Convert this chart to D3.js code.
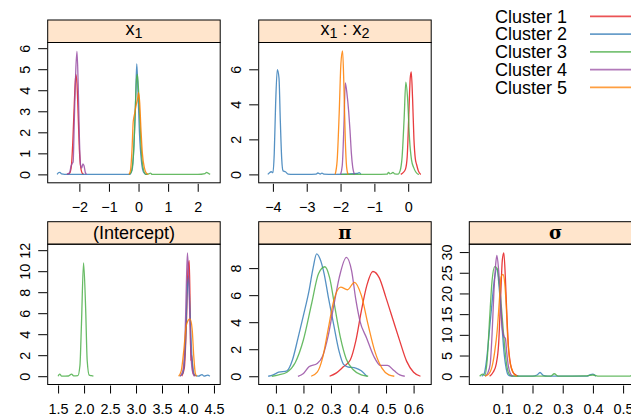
<!DOCTYPE html>
<html>
<head>
<meta charset="utf-8">
<script src="https://cdn.jsdelivr.net/npm/d3@7"></script>
<style>
  body { margin: 0; background: #fff; }
  svg { display: block; font-family: "Liberation Sans", Arial, sans-serif; }
</style>
</head>
<body>
<div id="chart"></div>
<script>
// Posterior densities per cluster, one array of [value, density] per cluster (1..5)
const clusterNames = ['Cluster 1', 'Cluster 2', 'Cluster 3', 'Cluster 4', 'Cluster 5'];
const clusterColors = ['#E41A1C', '#377EB8', '#4DAF4A', '#984EA3', '#FF7F00'];

const densX1 = [
    [[-2.42,0],[-2.33,0.05],[-2.27,0.4],[-2.22,1.6],[-2.17,3.4],[-2.12,4.75],[-2.08,4.3],[-2.04,2.8],[-2.0,1.2],[-1.96,0.4],[-1.9,0.05],[-1.85,0]],
    [[-2.75,0],[-2.71,0.08],[-2.66,0.1],[-2.6,0.02],[-2.5,0],[-1.5,0],[-0.5,0],[-0.3,0],[-0.22,0.2],[-0.16,1.2],[-0.1,3.5],[-0.06,5.25],[-0.02,4.0],[0.03,2.0],[0.1,0.6],[0.17,0.1],[0.25,0],[0.3,0]],
    [[-0.32,0],[-0.25,0.1],[-0.18,0.8],[-0.12,2.6],[-0.07,4.5],[-0.04,4.75],[0.0,4.0],[0.05,2.4],[0.1,1.0],[0.17,0.2],[0.25,0],[0.35,0.02],[0.4,0.06],[0.46,0],[1.0,0],[2.0,0],[2.25,0.04],[2.3,0.1],[2.36,0.05],[2.42,0]],
    [[-2.42,0],[-2.33,0.08],[-2.28,0.4],[-2.25,0.5],[-2.21,0.6],[-2.17,2.6],[-2.12,5.0],[-2.08,5.85],[-2.04,4.3],[-2.0,1.8],[-1.96,0.45],[-1.92,0.3],[-1.88,0.5],[-1.84,0.4],[-1.8,0.1],[-1.76,0]],
    [[-0.32,0],[-0.27,0.2],[-0.22,1.2],[-0.18,2.5],[-0.13,2.9],[-0.08,3.3],[-0.03,3.6],[0.0,3.88],[0.04,3.4],[0.08,2.2],[0.13,1.0],[0.2,0.3],[0.27,0.05],[0.33,0]]
];

const densX1X2 = [
    [[-0.22,0],[-0.15,0.1],[-0.08,0.3],[-0.03,1.0],[0.02,3.5],[0.06,5.5],[0.09,5.85],[0.13,4.3],[0.17,2.0],[0.21,0.9],[0.25,0.55],[0.3,0.2],[0.37,0]],
    [[-4.15,0],[-4.1,0.1],[-4.05,0.15],[-4.0,0.1],[-3.96,1.2],[-3.92,4.0],[-3.87,5.98],[-3.82,5.5],[-3.78,3.0],[-3.74,0.9],[-3.7,0.2],[-3.63,0.15],[-3.55,0.02],[-3.4,0],[-3.0,0],[-2.72,0.02],[-2.67,0.08],[-2.6,0.02],[-2.55,0.07],[-2.5,0.02],[-2.2,0],[-1.5,0.05],[-1.45,0.1],[-1.4,0]],
    [[-1.99,0],[-1.5,0],[-1.0,0],[-0.62,0.02],[-0.58,0.12],[-0.54,0.03],[-0.5,0.05],[-0.45,0.12],[-0.4,0.03],[-0.3,0.02],[-0.24,0.2],[-0.18,1.0],[-0.12,3.2],[-0.07,5.26],[-0.02,4.4],[0.04,2.0],[0.1,0.8],[0.16,0.4],[0.22,0.15],[0.28,0.02],[0.32,0]],
    [[-2.0,0],[-1.95,0.5],[-1.9,2.8],[-1.86,5.22],[-1.81,4.6],[-1.76,3.6],[-1.72,2.5],[-1.68,1.2],[-1.64,0.4],[-1.59,0]],
    [[-2.16,0],[-2.1,0.8],[-2.04,3.5],[-1.99,6.3],[-1.94,7.05],[-1.9,5.0],[-1.86,2.0],[-1.82,0.4],[-1.78,0]]
];

const densIntercept = [
    [[3.88,0],[3.93,0.8],[3.97,5.0],[4.0,10.2],[4.025,11.0],[4.045,5.0],[4.055,1.5],[4.07,2.0],[4.1,0.3],[4.14,0]],
    [[3.84,0],[3.9,0.3],[3.95,3.0],[3.985,8.0],[4.01,9.55],[4.04,6.0],[4.08,1.5],[4.13,0.1],[4.2,0],[4.27,0.15],[4.31,0],[4.38,0.1],[4.42,0]],
    [[1.5,0],[1.53,0.2],[1.57,0],[1.7,0.02],[1.76,0.2],[1.8,0.03],[1.88,0.05],[1.92,1.0],[1.95,5.0],[1.99,10.8],[2.03,6.5],[2.06,1.5],[2.1,0.1],[2.14,0.05],[2.18,0]],
    [[3.85,0],[3.9,0.5],[3.94,3.0],[3.97,9.0],[3.99,11.75],[4.02,8.5],[4.05,3.0],[4.08,0.6],[4.12,0]],
    [[3.82,0],[3.87,0.5],[3.92,2.5],[3.96,4.6],[4.0,5.3],[4.04,5.45],[4.08,4.5],[4.11,2.0],[4.14,0.3],[4.17,0]]
];

const densPi = [
    [[0.295,0],[0.32,0.25],[0.345,0.7],[0.37,1.2],[0.39,2.6],[0.41,4.8],[0.43,6.7],[0.452,7.75],[0.475,7.3],[0.5,5.8],[0.525,4.2],[0.55,2.6],[0.575,1.1],[0.6,0.3],[0.625,0]],
    [[0.072,0],[0.09,0.1],[0.11,0.3],[0.14,0.4],[0.16,1.2],[0.18,2.8],[0.2,4.5],[0.22,6.3],[0.235,8.0],[0.248,9.05],[0.26,8.7],[0.275,7.6],[0.29,5.9],[0.31,3.8],[0.33,1.8],[0.345,0.9],[0.36,0.7],[0.39,0.6],[0.41,0.4],[0.43,0]],
    [[0.085,0],[0.11,0.1],[0.14,0.3],[0.17,1.0],[0.2,2.7],[0.23,5.4],[0.255,7.6],[0.278,8.1],[0.295,7.3],[0.315,5.0],[0.335,2.8],[0.355,1.3],[0.38,0.5],[0.41,0.1],[0.435,0]],
    [[0.18,0],[0.2,0.2],[0.22,0.7],[0.25,0.95],[0.27,1.5],[0.29,3.0],[0.31,5.2],[0.33,7.3],[0.356,8.8],[0.375,7.8],[0.39,5.7],[0.405,4.1],[0.43,2.8],[0.455,1.5],[0.48,0.8],[0.505,0.8],[0.53,0.4],[0.55,0.1],[0.568,0]],
    [[0.228,0],[0.25,0.3],[0.27,1.4],[0.29,3.5],[0.31,5.6],[0.335,6.6],[0.36,6.4],[0.385,6.95],[0.41,6.0],[0.435,3.8],[0.46,1.8],[0.485,0.6],[0.51,0.1],[0.53,0]]
];

const densSigma = [
    [[0.058,0],[0.07,1.0],[0.08,3.0],[0.088,8.0],[0.095,20.0],[0.1,28.0],[0.105,29.8],[0.11,24.0],[0.115,15.0],[0.12,7.5],[0.127,3.0],[0.135,1.0],[0.145,0.3],[0.153,0]],
    [[0.032,0],[0.04,0.6],[0.048,4.0],[0.056,10.0],[0.065,17.0],[0.074,23.5],[0.082,26.0],[0.09,21.0],[0.098,13.0],[0.106,5.5],[0.113,1.8],[0.12,0.3],[0.13,0],[0.2,0],[0.215,0.3],[0.225,0.9],[0.235,0.2],[0.25,0],[0.38,0],[0.392,0.4],[0.4,0.5],[0.41,0]],
    [[0.025,0],[0.035,0.5],[0.042,0.2],[0.05,4.0],[0.058,14.0],[0.066,23.0],[0.075,26.5],[0.083,26.0],[0.092,21.0],[0.1,14.0],[0.108,7.0],[0.115,2.5],[0.122,0.6],[0.13,0.1],[0.15,0],[0.26,0],[0.272,0.6],[0.285,0],[0.38,0.1],[0.4,0.3],[0.42,0],[0.52,0],[0.54,0.5],[0.56,0]],
    [[0.043,0],[0.052,0.8],[0.06,3.0],[0.066,10.0],[0.072,20.0],[0.078,27.0],[0.082,29.2],[0.088,25.5],[0.094,19.0],[0.1,11.5],[0.106,9.5],[0.11,9.2],[0.115,5.5],[0.12,2.5],[0.127,0.6],[0.135,0]],
    [[0.043,0],[0.055,0.5],[0.065,2.0],[0.075,6.0],[0.083,11.0],[0.09,18.0],[0.096,24.0],[0.102,24.6],[0.108,22.5],[0.113,17.0],[0.118,9.0],[0.124,4.0],[0.131,1.8],[0.14,0.4],[0.148,0]]
];

// Tick values per panel
const ticksX1 = [-2, -1, 0, 1, 2];
const ticksX1Y = [0, 1, 2, 3, 4, 5, 6];
const ticksX1X2 = [-4, -3, -2, -1, 0];
const ticksX1X2Y = [0, 2, 4, 6];
const ticksIntercept = [1.5, 2.0, 2.5, 3.0, 3.5, 4.0, 4.5];
const ticksInterceptY = [0, 2, 4, 6, 8, 10, 12];
const ticksPi = [0.1, 0.2, 0.3, 0.4, 0.5, 0.6];
const ticksPiY = [0, 2, 4, 6, 8];
const ticksSigma = [0.1, 0.2, 0.3, 0.4, 0.5];
const ticksSigmaY = [0, 5, 10, 15, 20, 25, 30];

const width = 631, height = 415;
const colLeft = [47.7, 258.7, 469.3];
const rowTop = [20, 221.7];
const panW = 172.5, stripH = 22.5, plotH = 140.3;
const fntTick = 14.4, fntStrip = 18;

// strip labels: [text, isSubscript]
let panels = [
    {lab: [['x',0],['1',1]], dens: densX1, xd: [-3.07, 2.76], yd: [-0.40, 6.27], xt: ticksX1, yt: ticksX1Y, fmt: d3.format('d'), col: 0, row: 0},
    {lab: [['x',0],['1',1],[' : ',0],['x',0],['2',1]], dens: densX1X2, xd: [-4.42, 0.68], yd: [-0.48, 7.53], xt: ticksX1X2, yt: ticksX1X2Y, fmt: d3.format('d'), col: 1, row: 0},
    {lab: [['(Intercept)',0]], dens: densIntercept, xd: [1.30, 4.62], yd: [-0.79, 12.57], xt: ticksIntercept, yt: ticksInterceptY, fmt: d3.format('.1f'), col: 0, row: 1},
    {lab: [['π',0]], greek: true, dens: densPi, xd: [0.0375, 0.664], yd: [-0.61, 9.77], xt: ticksPi, yt: ticksPiY, fmt: d3.format('.1f'), col: 1, row: 1},
    {lab: [['σ',0]], greek: true, dens: densSigma, xd: [-0.0093, 0.5619], yd: [-2.0, 31.9], xt: ticksSigma, yt: ticksSigmaY, fmt: d3.format('.1f'), col: 2, row: 1}
];

let svg = d3.select('#chart').append('svg')
    .attr('width', width)
    .attr('height', height);

let defs = svg.append('defs');

panels.forEach((p, i) => {
    let x0 = colLeft[p.col], y0 = rowTop[p.row] + stripH;
    let g = svg.append('g').attr('transform', `translate(${x0},${y0})`);

    let sclX = d3.scaleLinear().domain(p.xd).range([0, panW]);
    let sclY = d3.scaleLinear().domain(p.yd).range([plotH, 0]);

    defs.append('clipPath').attr('id', 'clip' + i)
        .append('rect').attr('width', panW).attr('height', plotH);

    // strip
    g.append('rect')
        .attr('x', 0).attr('y', -stripH)
        .attr('width', panW).attr('height', stripH)
        .attr('fill', '#FFE5CC')
        .attr('stroke', '#000')
        .attr('stroke-width', 1);

    let txt = g.append('text')
        .attr('x', panW / 2)
        .attr('y', p.lab.length > 1 ? -stripH + 14.7 : -stripH + 17)
        .attr('text-anchor', 'middle')
        .attr('font-size', fntStrip)
        .attr('font-weight', p.greek ? 'bold' : 'normal')
        .attr('font-family', p.greek ? '"DejaVu Serif", serif' : null);
    p.lab.forEach(([s, sub], k) => {
        let prevSub = k > 0 && p.lab[k - 1][1];
        let dy = sub ? 3 : (prevSub ? -3 : 0);
        txt.append('tspan')
            .attr('dy', dy)
            .attr('font-size', sub ? fntStrip * 0.8 : fntStrip)
            .style('white-space', 'pre')
            .text(s);
    });

    // density lines
    let line = d3.line()
        .x(d => sclX(d[0]))
        .y(d => sclY(d[1]))
        .curve(d3.curveMonotoneX);

    g.append('g').attr('clip-path', `url(#clip${i})`)
        .selectAll('path')
        .data(p.dens).enter()
        .append('path')
        .attr('d', line)
        .attr('fill', 'none')
        .attr('stroke', (d, k) => clusterColors[k])
        .attr('stroke-opacity', 0.85)
        .attr('stroke-width', 1.3)
        .attr('stroke-linejoin', 'round');

    // panel border
    g.append('rect')
        .attr('width', panW).attr('height', plotH)
        .attr('fill', 'none')
        .attr('stroke', '#000')
        .attr('stroke-width', 1);

    // axes
    let axX = g.append('g')
        .attr('transform', `translate(0,${plotH + 1})`)
        .call(d3.axisBottom(sclX).tickValues(p.xt).tickFormat(p.fmt).tickSize(8).tickSizeOuter(0));
    axX.select('.domain').remove();
    axX.selectAll('text')
        .attr('y', 28.5).attr('dy', 0)
        .attr('font-size', fntTick)
        .attr('font-family', '"Liberation Sans", Arial, sans-serif')
        .attr('fill', '#000');

    let axY = g.append('g')
        .attr('transform', 'translate(-0.5,0)')
        .call(d3.axisLeft(sclY).tickValues(p.yt).tickFormat(d3.format('d')).tickSize(9).tickSizeOuter(0));
    axY.select('.domain').remove();
    axY.selectAll('text')
        .attr('x', null).attr('dy', 0)
        .attr('transform', 'translate(-17,0) rotate(-90)')
        .attr('text-anchor', 'middle')
        .attr('font-size', fntTick)
        .attr('font-family', '"Liberation Sans", Arial, sans-serif')
        .attr('fill', '#000');
});

// legend in the free top-right slot
let lgd = svg.append('g').selectAll('g')
    .data(clusterNames).enter()
    .append('g')
    .attr('transform', (d, k) => `translate(0,${16.3 + k * 17.75})`);

lgd.append('text')
    .attr('x', 495)
    .attr('y', 6.3)
    .attr('font-size', fntStrip)
    .text(d => d);

lgd.append('line')
    .attr('x1', 590).attr('x2', 645)
    .attr('y1', 0).attr('y2', 0)
    .attr('stroke', (d, k) => clusterColors[k])
    .attr('stroke-opacity', 0.75)
    .attr('stroke-width', 1.8);
</script>
</body>
</html>
